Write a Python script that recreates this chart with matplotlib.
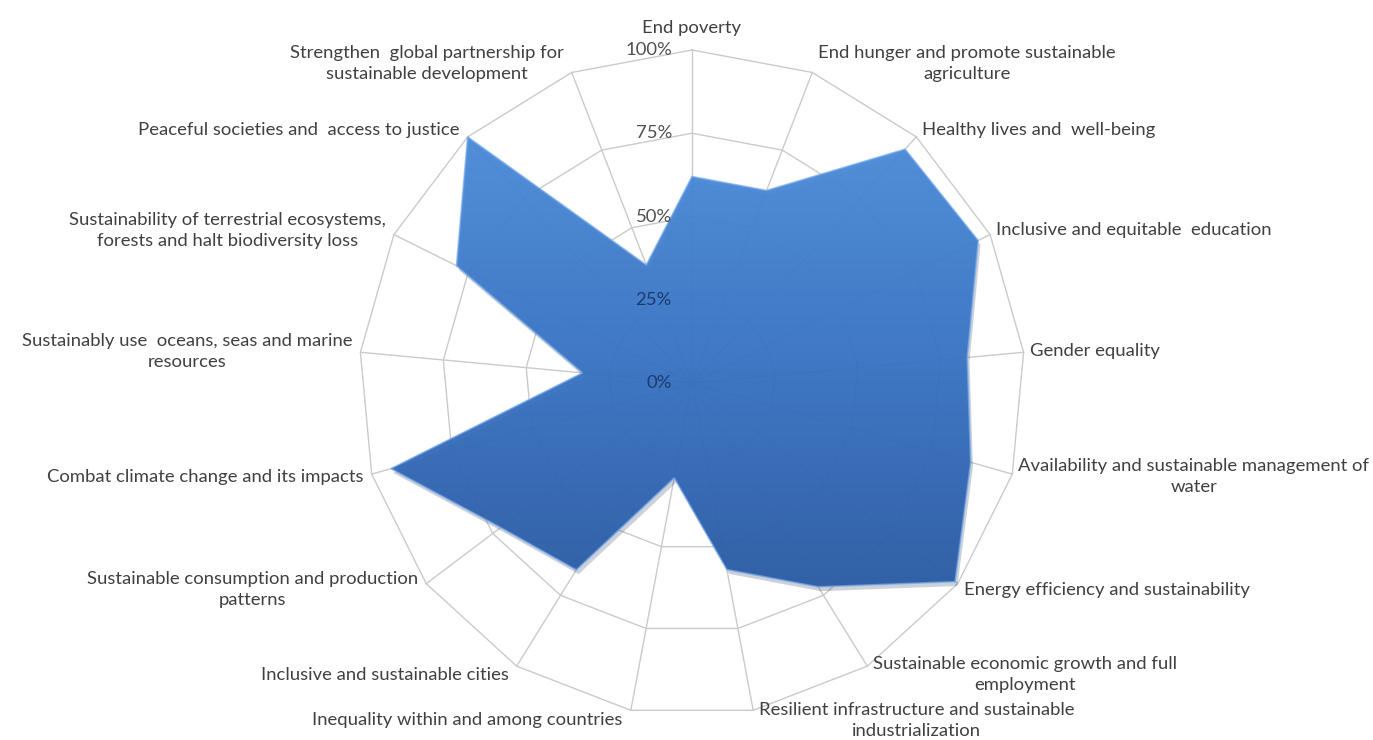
import numpy as np
import matplotlib
matplotlib.use("Agg")
import matplotlib.pyplot as plt
from matplotlib.patches import Polygon
from matplotlib.path import Path
from matplotlib.colors import LinearSegmentedColormap

categories = [
    "End poverty",
    "End hunger and promote sustainable\nagriculture",
    "Healthy lives and  well-being",
    "Inclusive and equitable  education",
    "Gender equality",
    "Availability and sustainable management of\nwater",
    "Energy efficiency and sustainability",
    "Sustainable economic growth and full\nemployment",
    "Resilient infrastructure and sustainable\nindustrialization",
    "Inequality within and among countries",
    "Inclusive and sustainable cities",
    "Sustainable consumption and production\npatterns",
    "Combat climate change and its impacts",
    "Sustainably use  oceans, seas and marine\nresources",
    "Sustainability of terrestrial ecosystems,\nforests and halt biodiversity loss",
    "Peaceful societies and  access to justice",
    "Strengthen  global partnership for\nsustainable development",
]
values = [62, 62, 95, 96, 83, 87, 99, 72, 57, 29, 66, 72, 94, 33, 79, 100, 38]
ring_levels = [25, 50, 75, 100]
tick_labels = ["0%", "25%", "50%", "75%", "100%"]

plt.rcParams['font.family'] = ['Lato', 'DejaVu Sans']
FS = 13.3
TXT = '#404040'

W, H, DPI = 1373, 740, 100
fig = plt.figure(figsize=(W / DPI, H / DPI), dpi=DPI)
ax = fig.add_axes([0, 0, 1, 1])
cx, cy, R = 692, 383, 333
ax.set_xlim(-cx / R, (W - cx) / R)
ax.set_ylim(-(H - cy) / R, cy / R)
ax.axis('off')

n = len(categories)
theta = 2 * np.pi * np.arange(n) / n
ux, uy = np.sin(theta), np.cos(theta)

grid_color = '#cacaca'
for i in range(n):
    ax.plot([0, ux[i]], [0, uy[i]], color=grid_color, lw=1.0, zorder=1)
for lv in ring_levels:
    r = lv / 100
    ax.plot(np.append(ux, ux[0]) * r, np.append(uy, uy[0]) * r,
            color=grid_color, lw=1.0, zorder=1)

# data polygon
v = np.array(values) / 100
px, py = ux * v, uy * v
pts = np.column_stack([px, py])

shadow = Polygon(pts + np.array([0.007, -0.013]), closed=True, facecolor='#1a2f55',
                 edgecolor='none', alpha=0.22, zorder=3)
ax.add_patch(shadow)

poly = Polygon(pts, closed=True, facecolor='none', edgecolor='none', zorder=4)
ax.add_patch(poly)
cmap = LinearSegmentedColormap.from_list('g', ['#2a5ba4', '#3873c4', '#4b8bd9'])
grad = np.linspace(0, 1, 256).reshape(-1, 1)
im = ax.imshow(grad, cmap=cmap, origin='lower', aspect='auto',
               extent=[px.min(), px.max(), py.min(), py.max()], alpha=0.95, zorder=4)
im.set_clip_path(poly)
ax.add_patch(Polygon(pts, closed=True, facecolor='none', edgecolor='#74a8ea',
                     lw=1.2, alpha=0.7, zorder=5))

# radial tick labels: grey outside the fill, dark navy where over it
fill_path = Path(pts)
for k, t in enumerate(tick_labels):
    r = k * 0.25
    inside = fill_path.contains_point((-38 / R, r))
    ax.annotate(t, xy=(0, r), xytext=(-20, 0), textcoords='offset pixels',
                ha='right', va='center', fontsize=FS,
                color='#1d3a6e' if inside else '#505050', zorder=6)

# category labels
for i, lab in enumerate(categories):
    if i == 0:
        ax.annotate(lab, xy=(ux[i], uy[i]), xytext=(0, 14), textcoords='offset pixels',
                    ha='center', va='bottom', fontsize=FS, color=TXT)
    elif ux[i] > 0:
        ax.annotate(lab, xy=(ux[i], uy[i]), xytext=(6, 10 * uy[i]), textcoords='offset pixels',
                    ha='left', va='center', multialignment='center',
                    fontsize=FS, color=TXT, linespacing=1.38)
    else:
        ax.annotate(lab, xy=(ux[i], uy[i]), xytext=(-8, 10 * uy[i]), textcoords='offset pixels',
                    ha='right', va='center', multialignment='center',
                    fontsize=FS, color=TXT, linespacing=1.38)

fig.savefig('out.png', dpi=DPI)
